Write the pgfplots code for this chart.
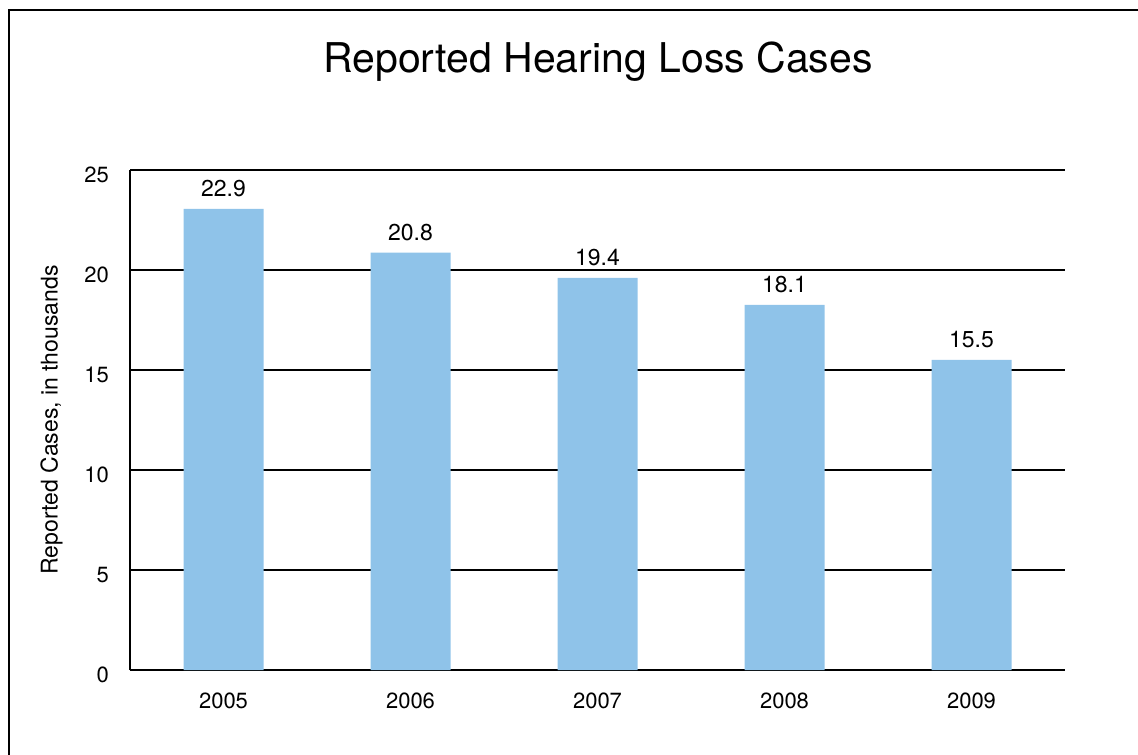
\documentclass[border=0pt]{standalone}
\usepackage{pgfplots}
\pgfplotsset{compat=1.18}
\usepackage{fontspec}
\setmainfont{TeX Gyre Heros}
\definecolor{barblue}{HTML}{8FC3E9}
\begin{document}
\begin{tikzpicture}[x=0.5pt,y=0.5pt]
\useasboundingbox (0,0) rectangle (1138,754);
\draw[line width=1pt] (9,-20) -- (9,744) -- (1160,744);
\node[font=\fontsize{20.5}{24}\selectfont] at (598,692) {Reported Hearing Loss Cases};
\begin{axis}[
  at={(65pt,42pt)}, anchor=south west,
  scale only axis, width=467.5pt, height=250pt,
  xmin=-0.5, xmax=4.5, ymin=0, ymax=25,
  axis x line=bottom, axis y line=left,
  axis line style={line width=1pt, -},
  ytick={0,5,10,15,20,25},
  xtick={0,1,2,3,4},
  xticklabels={2005,2006,2007,2008,2009},
  major tick length=0pt,
  ymajorgrids, grid style={black, line width=1pt},
  ybar, bar width=40pt,
  tick label style={font=\fontsize{11}{13}\selectfont},
  /pgf/number format/assume math mode=true,
  yticklabel style={xshift=-7pt, yshift=-2.5pt},
  xticklabel style={yshift=-8pt},
  ylabel={Reported Cases, in thousands},
  ylabel style={font=\fontsize{11.5}{13}\selectfont, yshift=4pt},
  point meta=explicit symbolic,
  nodes near coords={\pgfplotspointmeta},
  nodes near coords style={font=\fontsize{11.5}{13}\selectfont, yshift=2.5pt},
  clip=false,
]
\addplot[draw=none, fill=barblue] coordinates {
  (0,23.05) [22.9]
  (1,20.87) [20.8]
  (2,19.6)  [19.4]
  (3,18.25) [18.1]
  (4,15.5)  [15.5]
};
\end{axis}
\end{tikzpicture}
\end{document}
